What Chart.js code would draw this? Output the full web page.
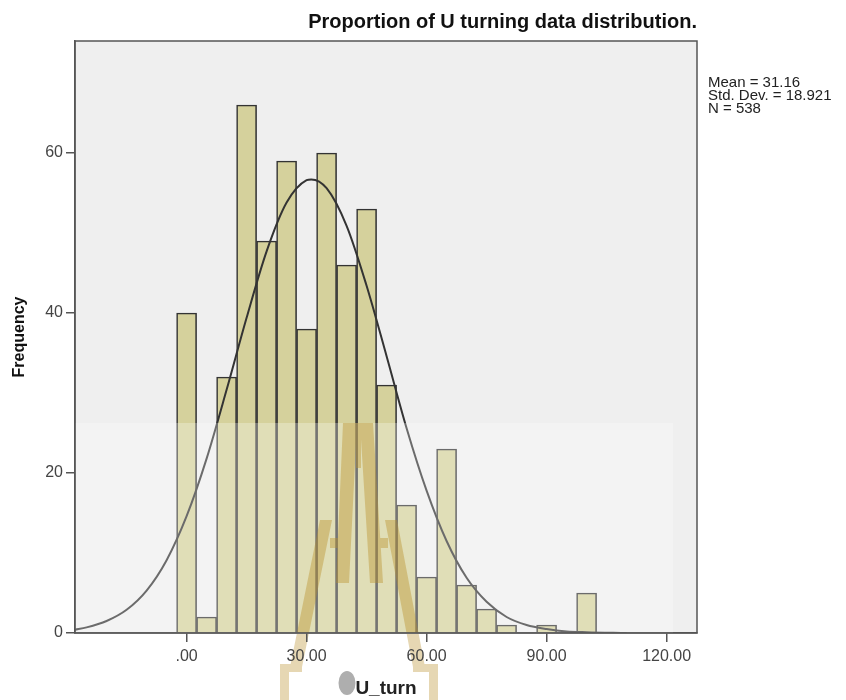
<!DOCTYPE html>
<html>
<head>
<meta charset="utf-8">
<script src="https://cdn.jsdelivr.net/npm/chart.js@4.4.1/dist/chart.umd.min.js"></script>
<style>
  html, body { margin: 0; padding: 0; background: #fff; }
  #wrap { width: 846px; height: 700px; }
</style>
</head>
<body>
<div id="wrap"><canvas id="chart" width="846" height="700"></canvas></div>
<script>
// histogram bins (centre of each 5-wide bin) and counts
const binCenters = [0, 5, 10, 15, 20, 25, 30, 35, 40, 45, 50, 55, 60, 65, 70, 75, 80, 85, 90, 95, 100];
const frequencies = [40, 2, 32, 66, 49, 59, 38, 60, 46, 53, 31, 16, 7, 23, 6, 3, 1, 0, 1, 0, 5];

// normal curve
const curveX = [-28, -25, -20, -15, -10, -5, 0, 5, 10, 15, 20, 25, 30, 31.16, 35, 40, 45, 50, 55, 60, 65, 70, 75, 80, 85, 90, 95, 100, 110];
const curveY = [0.4, 0.7, 1.5, 2.9, 5.3, 9.1, 14.6, 21.8, 30.4, 39.4, 47.7, 53.8, 56.6, 56.7, 55.6, 50.9, 43.4, 34.6, 25.6, 17.8, 11.5, 6.9, 3.9, 2.0, 1.0, 0.5, 0.2, 0.1, 0];

const xTickValues = [0, 30, 60, 90, 120];
const yTickValues = [0, 20, 40, 60];
const statLines = ['Mean = 31.16', 'Std. Dev. = 18.921', 'N = 538'];

const FONT = '"Liberation Sans", Arial, sans-serif';

// watermark pieces, offsets from the bottom-left corner of the plot
const watermark = [
  [[268, -210], [282, -210], [274, -50], [261, -50]],
  [[285, -210], [298, -210], [308, -50], [295, -50]],
  [[281, -210], [286, -210], [286, -165], [281, -165]],
  [[255, -95], [265, -95], [265, -85], [255, -85]],
  [[304, -95], [313, -95], [313, -85], [304, -85]],
  [[245, -113], [257, -113], [227, 34], [215, 34]],
  [[205, 31], [227, 31], [227, 39], [205, 39]],
  [[205, 31], [214, 31], [214, 67], [205, 67]],
  [[310, -113], [322, -113], [350, 34], [338, 34]],
  [[338, 31], [363, 31], [363, 39], [338, 39]],
  [[354, 31], [363, 31], [363, 67], [354, 67]]
];

function watermarkPath(ctx, area) {
  ctx.beginPath();
  watermark.forEach((poly) => {
    poly.forEach(([dx, dy], i) => {
      const px = area.left + dx, py = area.bottom + dy;
      if (i === 0) ctx.moveTo(px, py); else ctx.lineTo(px, py);
    });
    ctx.closePath();
  });
}

const decorPlugin = {
  id: 'decor',
  beforeDraw(chart) {
    const { ctx, chartArea: a, width, height } = chart;
    ctx.save();
    ctx.fillStyle = '#efefef';
    ctx.fillRect(a.left, a.top, a.right - a.left, a.bottom - a.top);
    // grey dot behind the axis title
    ctx.fillStyle = 'rgba(160,160,160,0.85)';
    ctx.beginPath();
    ctx.ellipse(a.left + 272, a.bottom + 50, 8.5, 12, 0, 0, Math.PI * 2);
    ctx.fill();
    // watermark below the plot
    ctx.beginPath();
    ctx.rect(0, a.bottom + 1, width, height - a.bottom);
    ctx.clip();
    watermarkPath(ctx, a);
    ctx.fillStyle = 'rgba(185,145,45,0.36)';
    ctx.fill();
    ctx.restore();
  },
  afterDatasetsDraw(chart) {
    const { ctx, chartArea: a } = chart;
    ctx.save();
    // pale band of the watermark
    ctx.fillStyle = 'rgba(255,255,255,0.28)';
    ctx.fillRect(a.left, a.bottom - 210, a.right - a.left - 24, 210);
    ctx.beginPath();
    ctx.rect(a.left, a.top, a.right - a.left, a.bottom - a.top);
    ctx.clip();
    watermarkPath(ctx, a);
    ctx.fillStyle = 'rgba(185,145,45,0.42)';
    ctx.fill();
    ctx.restore();

    ctx.save();
    ctx.strokeStyle = '#555';
    ctx.lineWidth = 1.5;
    ctx.strokeRect(a.left, a.top, a.right - a.left, a.bottom - a.top);
    ctx.fillStyle = '#222';
    ctx.font = '15px ' + FONT;
    ctx.textAlign = 'left';
    ctx.textBaseline = 'alphabetic';
    statLines.forEach((t, i) => {
      ctx.fillText(t, a.right + 11, a.top + 45.5 + i * 13.3);
    });
    ctx.restore();
  }
};

const barData = binCenters.map((x, i) => ({ x: x, y: frequencies[i] }));
const curveData = curveX.map((x, i) => ({ x: x, y: curveY[i] }));

new Chart(document.getElementById('chart'), {
  type: 'bar',
  data: {
    datasets: [
      {
        type: 'line',
        data: curveData,
        borderColor: '#333',
        borderWidth: 2,
        pointRadius: 0,
        fill: false,
        cubicInterpolationMode: 'monotone',
        order: 0
      },
      {
        type: 'bar',
        data: barData,
        backgroundColor: '#d5d19c',
        borderColor: '#333',
        borderWidth: 1.6,
        barPercentage: 1,
        categoryPercentage: 1,
        order: 1
      }
    ]
  },
  options: {
    responsive: false,
    animation: false,
    layout: { padding: { left: 0, right: 149, top: 0, bottom: 0 } },
    plugins: {
      legend: { display: false },
      tooltip: { enabled: false },
      title: {
        display: true,
        text: 'Proportion of U turning data distribution.',
        align: 'end',
        color: '#111',
        font: { family: FONT, size: 20, weight: 'bold' },
        padding: { top: 10, bottom: 7 }
      }
    },
    scales: {
      x: {
        type: 'linear',
        min: -27.9,
        max: 127.6,
        offset: false,
        afterBuildTicks: (scale) => { scale.ticks = xTickValues.map((v) => ({ value: v })); },
        afterFit: (scale) => { scale.height = 67; },
        ticks: {
          color: '#444',
          font: { family: FONT, size: 16 },
          padding: 5,
          maxRotation: 0,
          callback: (v) => (v === 0 ? '.00' : v.toFixed(2))
        },
        grid: { display: true, drawOnChartArea: false, drawTicks: true, tickLength: 9, color: '#555', lineWidth: 1.5, offset: false },
        border: { display: true, color: '#555', width: 1.5 },
        title: {
          display: true,
          text: 'U_turn',
          color: '#222',
          font: { family: FONT, size: 19, weight: 'bold' },
          padding: { top: 0, bottom: 0 }
        }
      },
      y: {
        min: 0,
        max: 74,
        afterBuildTicks: (scale) => { scale.ticks = yTickValues.map((v) => ({ value: v })); },
        afterFit: (scale) => { scale.width = 75; },
        ticks: {
          color: '#444',
          font: { family: FONT, size: 16 },
          padding: 3,
          callback: (v) => String(v)
        },
        grid: { display: true, drawOnChartArea: false, drawTicks: true, tickLength: 9, color: '#555', lineWidth: 1.5 },
        border: { display: true, color: '#555', width: 1.5 },
        title: {
          display: true,
          text: 'Frequency',
          color: '#111',
          font: { family: FONT, size: 16, weight: 'bold' },
          padding: { top: 10, bottom: 0 }
        }
      }
    }
  },
  plugins: [decorPlugin]
});
</script>
</body>
</html>
